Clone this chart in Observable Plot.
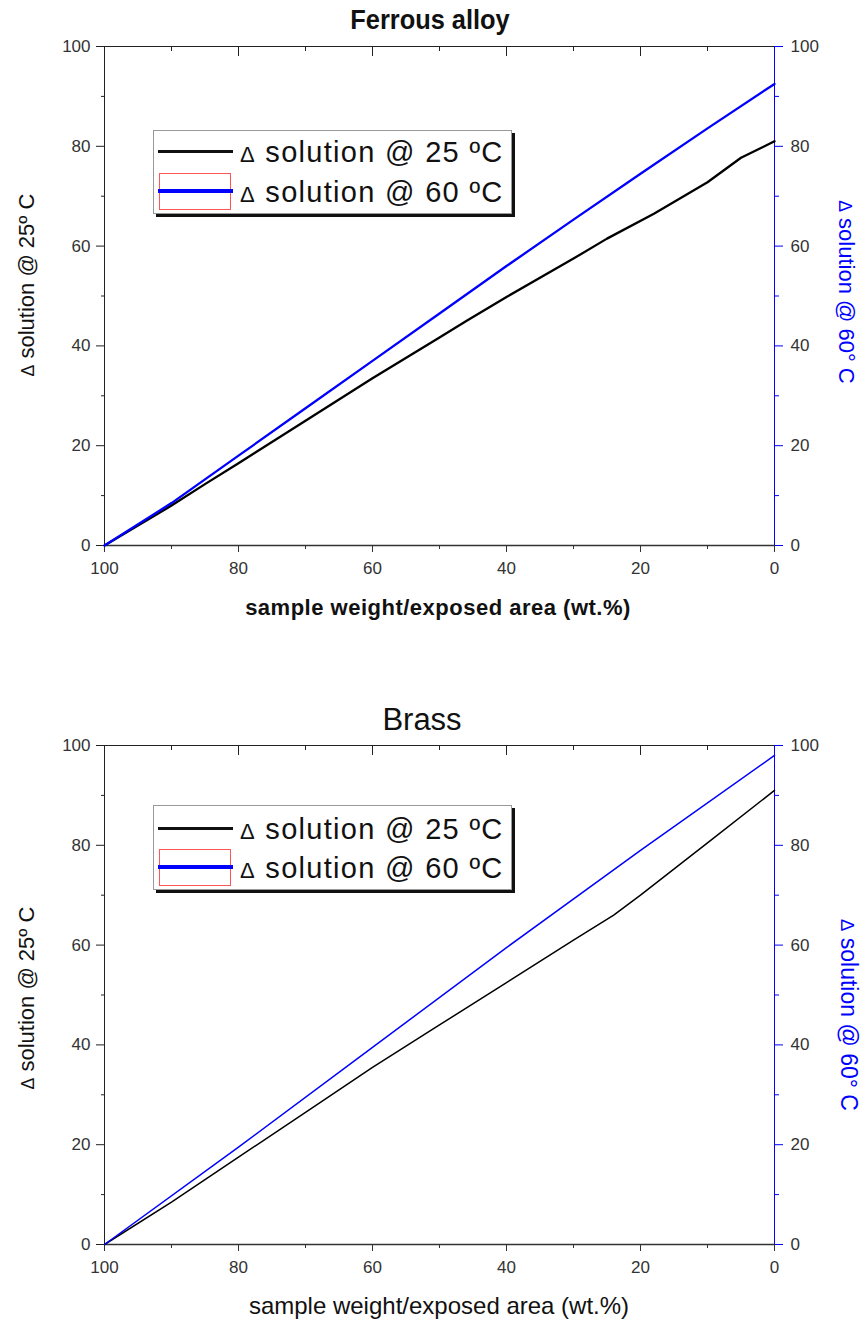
<!DOCTYPE html>
<html><head><meta charset="utf-8">
<script src="https://cdn.jsdelivr.net/npm/d3@7"></script>
<script src="https://cdn.jsdelivr.net/npm/@observablehq/plot@0.6"></script>
<style>
body{margin:0;background:#fff;font-family:Arial,"Liberation Sans",sans-serif}
#wrap{position:relative;width:861px;height:1322px;overflow:hidden;background:#fff}
.abs{position:absolute;white-space:nowrap;line-height:1}
.abs .d{font-size:80%}
.leg{position:absolute;border:1px solid #999;box-shadow:3px 3px 0 #111;background:#fff}
.ltxt{position:absolute;font-size:29px;letter-spacing:1.3px;color:#111;white-space:nowrap;line-height:1;transform:translateY(-50%)}
.ltxt .d{font-size:22px}
svg{position:absolute;left:0}
</style></head><body><div id="wrap"></div>
<script>
// ---- data ----
const xTicks = [100, 80, 60, 40, 20, 0];
const xMinor = [90, 70, 50, 30, 10];
const yTicks = [0, 20, 40, 60, 80, 100];
const yMinor = [10, 30, 50, 70, 90];

const ferrousX25 = [100, 95, 90, 85, 80, 70, 60, 50, 46, 40, 30, 25, 18, 10, 5, 0];
const ferrousY25 = [0, 4, 8, 12.3, 16.5, 25, 33.5, 41.7, 45, 49.8, 57.5, 61.5, 66.5, 72.8, 77.7, 81];
const ferrousX60 = [100, 90, 80, 70, 60, 50, 40, 30, 20, 10, 0];
const ferrousY60 = [0, 8.5, 18, 27.5, 37, 46.5, 56, 65.3, 74.5, 83.6, 92.5];

const brassX25 = [100, 90, 80, 70, 60, 50, 40, 30, 24, 20, 10, 0];
const brassY25 = [0, 8.5, 17.5, 26.5, 35.5, 44, 52.5, 61, 66, 70, 80.5, 91];
const brassX60 = [100, 80, 60, 40, 20, 0];
const brassY60 = [0, 19.5, 39.5, 59.5, 79, 98];

const titles = ["Ferrous alloy", "Brass"];
const xLabel = "sample weight/exposed area (wt.%)";
const yLabelL = "solution @ 25\u00ba C";
const yLabelR = "solution @ 60\u00b0 C";
const legend25 = "solution @ 25 \u00baC";
const legend60 = "solution @ 60 \u00baC";

const zip = (xs, ys) => xs.map((x, i) => ({x, y: ys[i]}));

function chart({top, mt, mb, x25, y25, x60, y60, lw}) {
  const svg = Plot.plot({
    width: 861, height: 661,
    marginLeft: 104, marginRight: 87, marginTop: mt, marginBottom: mb,
    style: {fontFamily: "Arial, 'Liberation Sans', sans-serif", background: "transparent", overflow: "visible"},
    x: {domain: [100, 0]},
    y: {domain: [0, 100]},
    marks: [
      Plot.axisX(xTicks, {anchor: "bottom", tickSize: 7, tickPadding: 9, fontSize: 17, fill: "#333", stroke: "#333", label: null}),
      Plot.axisX(xMinor, {anchor: "bottom", tickSize: 4, text: null, label: null, stroke: "#333"}),
      // inward ticks along the top edge
      Plot.ruleX(xTicks.filter(d => d > 0 && d < 100), {y1: 100, y2: 98, stroke: "#222"}),
      Plot.ruleX(xMinor, {y1: 100, y2: 99, stroke: "#222"}),
      Plot.axisY(yTicks, {anchor: "left", tickSize: 8, tickPadding: 6, fontSize: 17, fill: "#333", stroke: "#222", label: null}),
      Plot.axisY(yMinor, {anchor: "left", tickSize: 3, text: null, label: null, stroke: "#222"}),
      Plot.axisY(yTicks, {anchor: "right", tickSize: 8, tickPadding: 8, fontSize: 17, fill: "#333", stroke: "blue", label: null}),
      Plot.axisY(yMinor, {anchor: "right", tickSize: 4, text: null, label: null, stroke: "blue"}),
      Plot.ruleY([0], {stroke: "#333", strokeWidth: 1.5}),
      Plot.ruleY([100], {stroke: "#222", strokeWidth: 1.2}),
      Plot.ruleX([100], {stroke: "#222", strokeWidth: 1}),
      Plot.ruleX([0], {stroke: "blue", strokeWidth: 1}),
      Plot.line(zip(x25, y25), {x: "x", y: "y", stroke: "black", strokeWidth: lw}),
      Plot.line(zip(x60, y60), {x: "x", y: "y", stroke: "blue", strokeWidth: lw})
    ]
  });
  svg.style.top = top + "px";
  return svg;
}

const wrap = document.getElementById("wrap");
wrap.appendChild(chart({top: 0, mt: 46, mb: 116, x25: ferrousX25, y25: ferrousY25, x60: ferrousX60, y60: ferrousY60, lw: 2.3}));
wrap.appendChild(chart({top: 661, mt: 84, mb: 78, x25: brassX25, y25: brassY25, x60: brassX60, y60: brassY60, lw: 1.5}));

function addText(txt, x, y, css, extra, delta) {
  const d = document.createElement("div");
  d.className = "abs";
  if (delta) d.innerHTML = `<span class="d">\u0394</span> ${txt}`;
  else d.textContent = txt;
  d.style.left = x + "px"; d.style.top = y + "px";
  d.style.transform = "translate(-50%,-50%)" + (extra || "");
  Object.assign(d.style, css);
  wrap.appendChild(d);
}
addText(titles[0], 430, 20, {fontSize: "27px", fontWeight: "bold", color: "#111"}, " scaleX(0.94)");
addText(titles[1], 422, 719, {fontSize: "31px", color: "#111"});
addText(xLabel, 438, 608, {fontSize: "22px", fontWeight: "bold", letterSpacing: "0.5px", color: "#111"});
addText(xLabel, 439, 1306, {fontSize: "24px", color: "#111"});
addText(yLabelL, 27, 285, {fontSize: "22px", color: "#111"}, " rotate(-90deg)", true);
addText(yLabelL, 27, 998, {fontSize: "22px", color: "#111"}, " rotate(-90deg)", true);
addText(yLabelR, 846, 292, {fontSize: "22px", color: "blue"}, " rotate(90deg)", true);
addText(yLabelR, 848, 1015, {fontSize: "23px", color: "blue"}, " rotate(90deg)", true);

function legend(top, row1, row2, rectTop, rectBot) {
  const box = document.createElement("div");
  box.className = "leg";
  box.style.left = "153px"; box.style.top = top + "px";
  box.style.width = "357px"; box.style.height = (rectBot - top + 2) + "px";
  wrap.appendChild(box);
  const ln = (y, color, w) => {
    const l = document.createElement("div");
    l.style.cssText = `position:absolute;left:158px;top:${y - w / 2}px;width:75px;height:${w}px;background:${color}`;
    wrap.appendChild(l);
  };
  const r = document.createElement("div");
  r.style.cssText = `position:absolute;left:159px;top:${rectTop}px;width:72px;height:${rectBot - rectTop}px;border:1px solid #f55;box-sizing:border-box`;
  wrap.appendChild(r);
  ln(row1, "#111", 3);
  ln(row2, "blue", 4);
  [[row1, legend25], [row2, legend60]].forEach(([y, t]) => {
    const d = document.createElement("div");
    d.className = "ltxt";
    d.style.left = "240px"; d.style.top = (y + 1) + "px";
    d.innerHTML = `<span class="d">\u0394</span> ${t}`;
    wrap.appendChild(d);
  });
}
legend(130, 151, 191, 173, 210);
legend(805, 828, 867, 849, 886);
</script></body></html>
